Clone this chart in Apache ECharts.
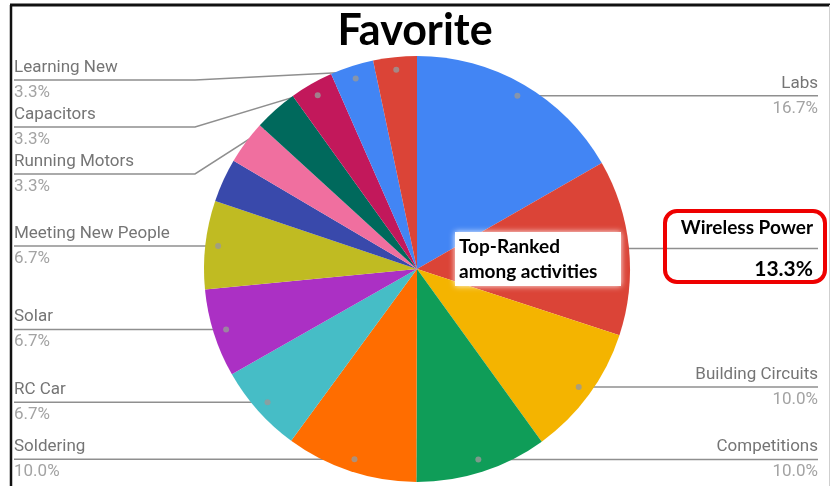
<!DOCTYPE html>
<html>
<head>
<meta charset="utf-8">
<style>
  html, body { margin: 0; padding: 0; background: #fff; }
  #chart { width: 830px; height: 486px; }
</style>
<script src="https://cdn.jsdelivr.net/npm/echarts@6/dist/echarts.min.js"></script>
</head>
<body>
<div id="chart"></div>
<script>
'use strict';

// ---- data ----
var categories = ['Labs', 'Wireless Power', 'Building Circuits', 'Competitions', 'Soldering',
    'RC Car', 'Solar', 'Meeting New People', 'Other 1', 'Other 2', 'Other 3',
    'Running Motors', 'Capacitors', 'Learning New'];
var percents = [16.7, 13.3, 10.0, 10.0, 10.0, 6.7, 6.7, 6.7, 3.3, 3.3, 3.3, 3.3, 3.3, 3.3];
// slices whose label is printed in the picture
var labelled = [true, true, true, true, true, true, true, true, false, false, false, true, true, true];
var sliceColors = ['#4285f4', '#db4437', '#f4b400', '#0f9d58', '#ff6d00', '#46bdc6', '#ab30c4',
    '#c0bb22', '#3949ab', '#f06f9f', '#00695c', '#c2185b', '#4285f4', '#db4437'];
var highlight = 'Wireless Power';

// ---- layout ----
var CX = 417, CY = 269, R = 213;
var DOT = 0.94;               // label line starts a bit inside the slice
var LEFT_X = 14, RIGHT_X = 818;
var SLOT = 47;                // min spacing of stacked labels
var TOP_SLOT = 80;

var total = percents.reduce(function (a, b) { return a + b; }, 0);

// mid angle of each slice, used for label slots and line start points
var mids = [], acc = 0;
percents.forEach(function (v) { mids.push(acc + v / 2); acc += v; });
var dotPts = mids.map(function (m) {
    var a = m / total * Math.PI * 2;
    return [CX + R * DOT * Math.sin(a), CY - R * DOT * Math.cos(a)];
});

// stack labels on each side so they don't overlap
var slotY = [];
function stack(side) {
    var idx = [];
    for (var i = 0; i < categories.length; i++) {
        if (!labelled[i]) continue;
        var isLeft = dotPts[i][0] < CX;
        if ((side === 'left') === isLeft) idx.push(i);
    }
    idx.sort(function (a, b) { return dotPts[a][1] - dotPts[b][1]; });
    var prev = TOP_SLOT - SLOT;
    idx.forEach(function (i) {
        var y = Math.max(dotPts[i][1], prev + SLOT, TOP_SLOT);
        slotY[i] = y;
        prev = y;
    });
}
stack('left');
stack('right');

var pieData = categories.map(function (name, i) {
    var item = {
        name: name,
        value: percents[i],
        itemStyle: { color: sliceColors[i] }
    };
    if (!labelled[i]) {
        item.label = { show: false };
        item.labelLine = { show: false };
    } else if (name === highlight) {
        item.label = {
            rich: {
                n: { fontFamily: 'Lato', fontWeight: 'bold', fontSize: 19, color: '#000', lineHeight: 41, align: 'right' },
                p: { fontFamily: 'Lato', fontWeight: 'bold', fontSize: 21, color: '#000', lineHeight: 41, align: 'right' }
            }
        };
    }
    return item;
});

var dotData = [];
for (var i = 0; i < categories.length; i++) {
    if (labelled[i]) dotData.push([DOT, mids[i]]);
}

var chart = echarts.init(document.getElementById('chart'));

var option = {
    animation: false,
    backgroundColor: '#fff',
    title: {
        text: 'Favorite',
        left: 'center',
        top: 5,
        textStyle: { fontFamily: 'Lato', fontWeight: 'bold', fontSize: 43, color: '#000' }
    },
    polar: { center: [CX, CY], radius: R },
    angleAxis: { type: 'value', min: 0, max: total, startAngle: 90, clockwise: true, show: false },
    radiusAxis: { min: 0, max: 1, show: false },
    series: [
        {
            type: 'pie',
            center: [CX, CY],
            radius: R,
            startAngle: 90,
            clockwise: true,
            data: pieData,
            itemStyle: { borderWidth: 0 },
            emphasis: { disabled: true },
            label: {
                show: true,
                position: 'outside',
                overflow: 'none',
                formatter: function (p) {
                    return '{n|' + p.name + '}\n{p|' + p.value.toFixed(1) + '%}';
                },
                rich: {
                    n: { fontFamily: 'Roboto', fontSize: 17, color: '#757575', lineHeight: 25 },
                    p: { fontFamily: 'Roboto', fontSize: 17, color: '#a3a3a3', lineHeight: 25 }
                }
            },
            labelLine: {
                show: true,
                lineStyle: { color: '#8f8f8f', width: 1.5 }
            },
            labelLayout: function (params) {
                var i = params.dataIndex;
                if (!labelled[i]) return {};
                var d = dotPts[i], y = slotY[i];
                var left = d[0] < CX;
                var endX = left ? LEFT_X : RIGHT_X;
                var elbowX = left ? 195 : 640;
                var pts = Math.abs(y - d[1]) > 1
                    ? [[d[0], d[1]], [elbowX, y], [endX, y]]
                    : [[d[0], d[1]], [(d[0] + endX) / 2, y], [endX, y]];
                var textX = categories[i] === highlight ? endX - 5 : endX;
                return {
                    x: textX,
                    y: y,
                    align: left ? 'left' : 'right',
                    verticalAlign: 'middle',
                    labelLinePoints: pts
                };
            }
        },
        {
            type: 'scatter',
            coordinateSystem: 'polar',
            data: dotData,
            symbolSize: 6,
            itemStyle: { color: '#999' },
            silent: true,
            z: 5
        }
    ],
    graphic: [
        // note box over the red slice
        {
            type: 'rect',
            z: 100,
            shape: { x: 455, y: 232, width: 166, height: 54 },
            style: { fill: '#fff', shadowBlur: 6, shadowColor: 'rgba(255,255,255,0.95)' }
        },
        {
            type: 'text',
            z: 101,
            left: 459,
            top: 234,
            style: {
                text: 'Top-Ranked\namong activities',
                fontFamily: 'Lato',
                fontWeight: 'bold',
                fontSize: 19,
                lineHeight: 25,
                fill: '#000'
            }
        },
        // red outline around the Wireless Power label
        {
            type: 'rect',
            z: 100,
            shape: { x: 665, y: 211, width: 160, height: 71, r: 12 },
            style: { fill: null, stroke: '#ee0000', lineWidth: 4 }
        },
        // picture frame
        {
            type: 'line', z: 100,
            shape: { x1: 10, y1: 5, x2: 830, y2: 5 },
            style: { stroke: '#111', lineWidth: 3 }
        },
        {
            type: 'line', z: 100,
            shape: { x1: 11, y1: 5, x2: 11, y2: 486 },
            style: { stroke: '#111', lineWidth: 2.5 }
        },
        {
            type: 'line', z: 100,
            shape: { x1: 829.5, y1: 5, x2: 829.5, y2: 486 },
            style: { stroke: '#cfcfcf', lineWidth: 1 }
        }
    ]
};

chart.setOption(option);
</script>
</body>
</html>
